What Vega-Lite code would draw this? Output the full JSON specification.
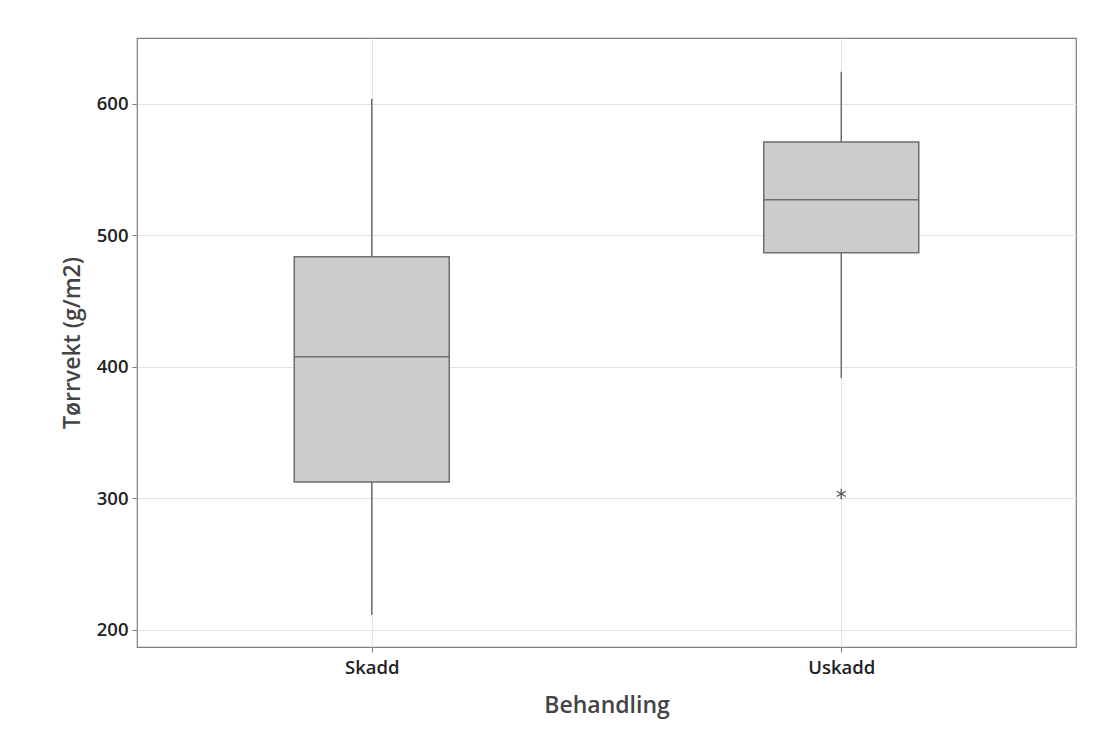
{
  "$schema": "https://vega.github.io/schema/vega-lite/v6.json",
  "autosize": {"type": "none"},
  "padding": {"left": 137, "top": 38, "right": 36, "bottom": 90},
  "width": 939,
  "height": 609,
  "background": "white",
  "config": {
    "font": "Open Sans",
    "view": {"stroke": "#7f7f7f", "strokeWidth": 1.2},
    "axis": {
      "gridColor": "#e3e3e3",
      "gridWidth": 1,
      "domain": false,
      "tickColor": "#7f7f7f",
      "tickSize": 5,
      "labelColor": "#222222",
      "labelFontSize": 18.5,
      "labelFontWeight": 600,
      "titleColor": "#444444",
      "titleFontSize": 23,
      "titleFontWeight": 600
    }
  },
  "datasets": {
    "summary": [
      {"Behandling": "Skadd", "lower": 211.4, "q1": 312.5, "median": 407.6, "q3": 483.7, "upper": 603.8},
      {"Behandling": "Uskadd", "lower": 391.6, "q1": 486.7, "median": 527.0, "q3": 571.0, "upper": 624.3}
    ],
    "outliers": [
      {"Behandling": "Uskadd", "value": 303.4}
    ]
  },
  "layer": [
    {
      "data": {"name": "summary"},
      "mark": {"type": "rule", "color": "#6e6e6e", "strokeWidth": 1.5},
      "encoding": {
        "x": {"field": "Behandling", "type": "nominal", "scale": {"type": "point", "padding": 0.5}, "sort": null,
              "axis": {"title": "Behandling", "labelAngle": 0, "labelPadding": 6, "titlePadding": 18, "grid": true}},
        "y": {"field": "lower", "type": "quantitative",
              "scale": {"domain": [187, 650], "nice": false, "zero": false},
              "axis": {"title": "Tørrvekt (g/m2)", "values": [200, 300, 400, 500, 600], "labelPadding": 4, "titlePadding": 12, "grid": true}},
        "y2": {"field": "upper"}
      }
    },
    {
      "data": {"name": "summary"},
      "mark": {"type": "bar", "size": 155, "fill": "#cccccc", "stroke": "#6e6e6e", "strokeWidth": 1.5},
      "encoding": {
        "x": {"field": "Behandling", "type": "nominal", "sort": null},
        "y": {"field": "q1", "type": "quantitative"},
        "y2": {"field": "q3"}
      }
    },
    {
      "data": {"name": "summary"},
      "mark": {"type": "tick", "size": 155, "color": "#6e6e6e", "thickness": 1.5, "opacity": 1},
      "encoding": {
        "x": {"field": "Behandling", "type": "nominal", "sort": null},
        "y": {"field": "median", "type": "quantitative"}
      }
    },
    {
      "data": {"name": "outliers"},
      "mark": {"type": "point", "shape": "M0,-1L0,1M-0.87,-0.5L0.87,0.5M-0.87,0.5L0.87,-0.5", "size": 110, "stroke": "#555555", "strokeWidth": 1.3, "filled": false, "opacity": 1},
      "encoding": {
        "x": {"field": "Behandling", "type": "nominal", "sort": null},
        "y": {"field": "value", "type": "quantitative"}
      }
    }
  ]
}
